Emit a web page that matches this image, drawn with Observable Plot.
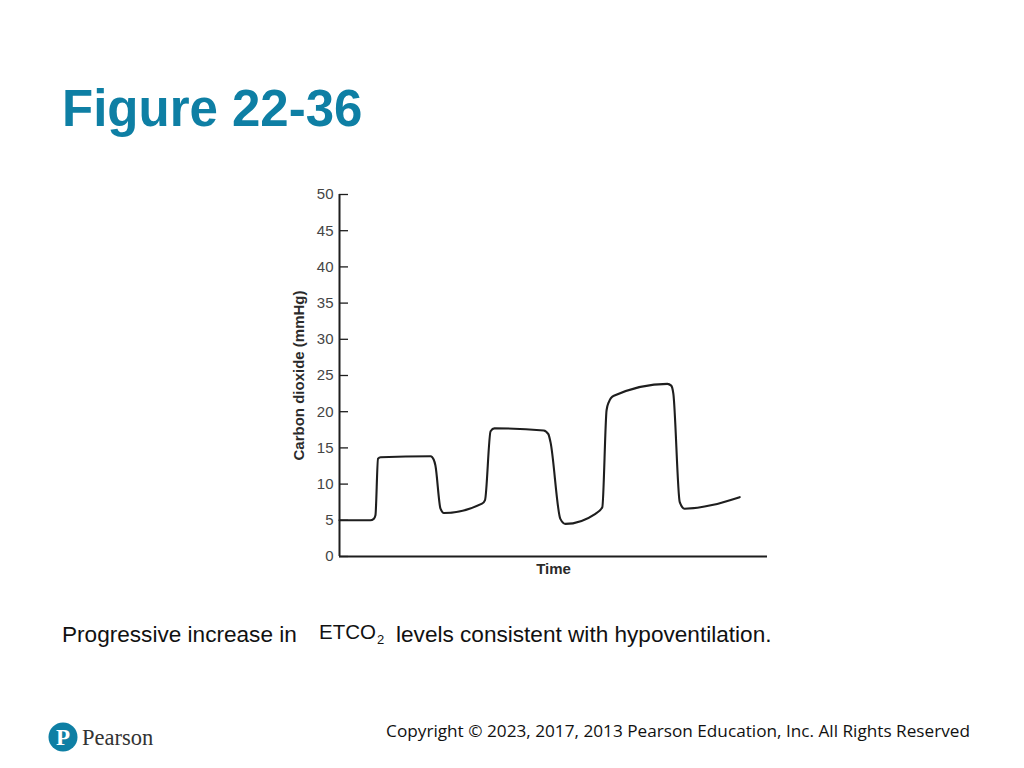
<!DOCTYPE html>
<html>
<head>
<meta charset="utf-8">
<script src="https://cdn.jsdelivr.net/npm/d3@7"></script>
<script src="https://cdn.jsdelivr.net/npm/@observablehq/plot@0.6"></script>
<style>
  html, body { margin: 0; padding: 0; background: #fff; }
  #page { position: relative; width: 1024px; height: 768px; overflow: hidden; background: #fff; font-family: "Liberation Sans", Arial, sans-serif; }
  .abs { position: absolute; white-space: nowrap; line-height: 1; }
  #title { left: 62px; top: 83px; font-size: 51px; font-weight: bold; color: #0e7fa4; }
  .cap { font-size: 22.6px; color: #111; top: 624px; }
  #etco { left: 319px; top: 622px; font-size: 20.5px; color: #111; }
  #etco sub { font-size: 13px; vertical-align: -5px; margin-left: 1px; }
  #copy { right: 54px; top: 722px; font-family: "Open Sans", "Noto Sans", sans-serif; font-size: 17.2px; color: #111; }
  #chart { position: absolute; left: 270px; top: 180px; }
  #logo { position: absolute; left: 46px; top: 718px; }
</style>
</head>
<body>
<div id="page">
  <div id="title" class="abs">Figure 22-36</div>
  <div id="chart"></div>
  <div class="abs cap" style="left:62px;">Progressive increase in</div>
  <div id="etco" class="abs">ETCO<sub>2</sub></div>
  <div class="abs cap" style="left:396px;">levels consistent with hypoventilation.</div>
  <svg id="logo" width="120" height="40" viewBox="0 0 120 40">
    <circle cx="17" cy="19" r="14.5" fill="#0e7fa4"></circle>
    <text x="17" y="27" text-anchor="middle" font-family="Liberation Serif, serif" font-weight="bold" font-size="23" fill="#fff">P</text>
    <text x="36" y="27" font-family="Liberation Serif, DejaVu Serif, serif" font-size="22.5" fill="#333">Pearson</text>
  </svg>
  <div id="copy" class="abs">Copyright © 2023, 2017, 2013 Pearson Education, Inc. All Rights Reserved</div>
</div>
<script>
// Time (arbitrary units, 0–100 across the axis) and CO2 (mmHg)
const time = [0, 7.2, 8.0, 8.4, 9.0, 9.6, 21.3, 22.0, 22.4, 23.6, 24.4, 33.3, 34.0, 35.3, 36.2, 47.7, 48.8, 49.3, 51.6, 52.8, 59.8, 61.4, 62.4, 62.9, 64.1, 76.6, 77.5, 78.0, 79.5, 80.6, 93.5];
const co2  = [5.0, 5.0, 5.2, 5.7, 13.5, 13.7, 13.85, 13.4, 12.6, 6.6, 6.0, 7.3, 7.8, 17.3, 17.7, 17.4, 16.9, 15.8, 5.2, 4.5, 5.9, 6.8, 20.2, 21.3, 22.2, 23.85, 23.6, 22.5, 7.5, 6.6, 8.2];
const yTicks = [0, 5, 10, 15, 20, 25, 30, 35, 40, 45, 50];
const yLabel = ["Carbon dioxide (mmHg)"];
const xLabel = ["Time"];

const idx = d3.range(time.length);
const ink = "#1e1e1e";

const chart = Plot.plot({
  width: 520,
  height: 410,
  marginLeft: 69,
  marginRight: 23,
  marginTop: 14,
  marginBottom: 34,
  x: {domain: [0, 100], axis: null},
  y: {domain: [0, 50]},
  style: {fontFamily: "Liberation Sans, Arial, sans-serif", fontSize: "15px", color: ink, background: "transparent"},
  marks: [
    Plot.axisY(yTicks, {anchor: "left", tickSize: 0, tickPadding: 6, label: null, fill: "#454545", fontSize: 15}),
    Plot.axisY(yTicks, {anchor: "left", tickSize: 9, dx: 9, fill: "none", label: null, stroke: ink, strokeWidth: 1.3}),
    Plot.ruleX([0], {y1: 0, y2: 50, stroke: ink, strokeWidth: 2}),
    Plot.ruleY([0], {stroke: ink, strokeWidth: 2}),
    Plot.line(idx, {x: i => time[i], y: i => co2[i], curve: "monotone-x", stroke: ink, strokeWidth: 2.1}),
    Plot.text(yLabel, {text: d => d, frameAnchor: "left", textAnchor: "middle", rotate: -90, dx: -40, fontWeight: "bold", fontSize: 15, fill: "#2a2a2a"}),
    Plot.text(xLabel, {text: d => d, frameAnchor: "bottom", dy: 17, fontWeight: "bold", fontSize: 15, fill: "#2a2a2a"})
  ]
});
document.getElementById("chart").appendChild(chart);
</script>
</body>
</html>
